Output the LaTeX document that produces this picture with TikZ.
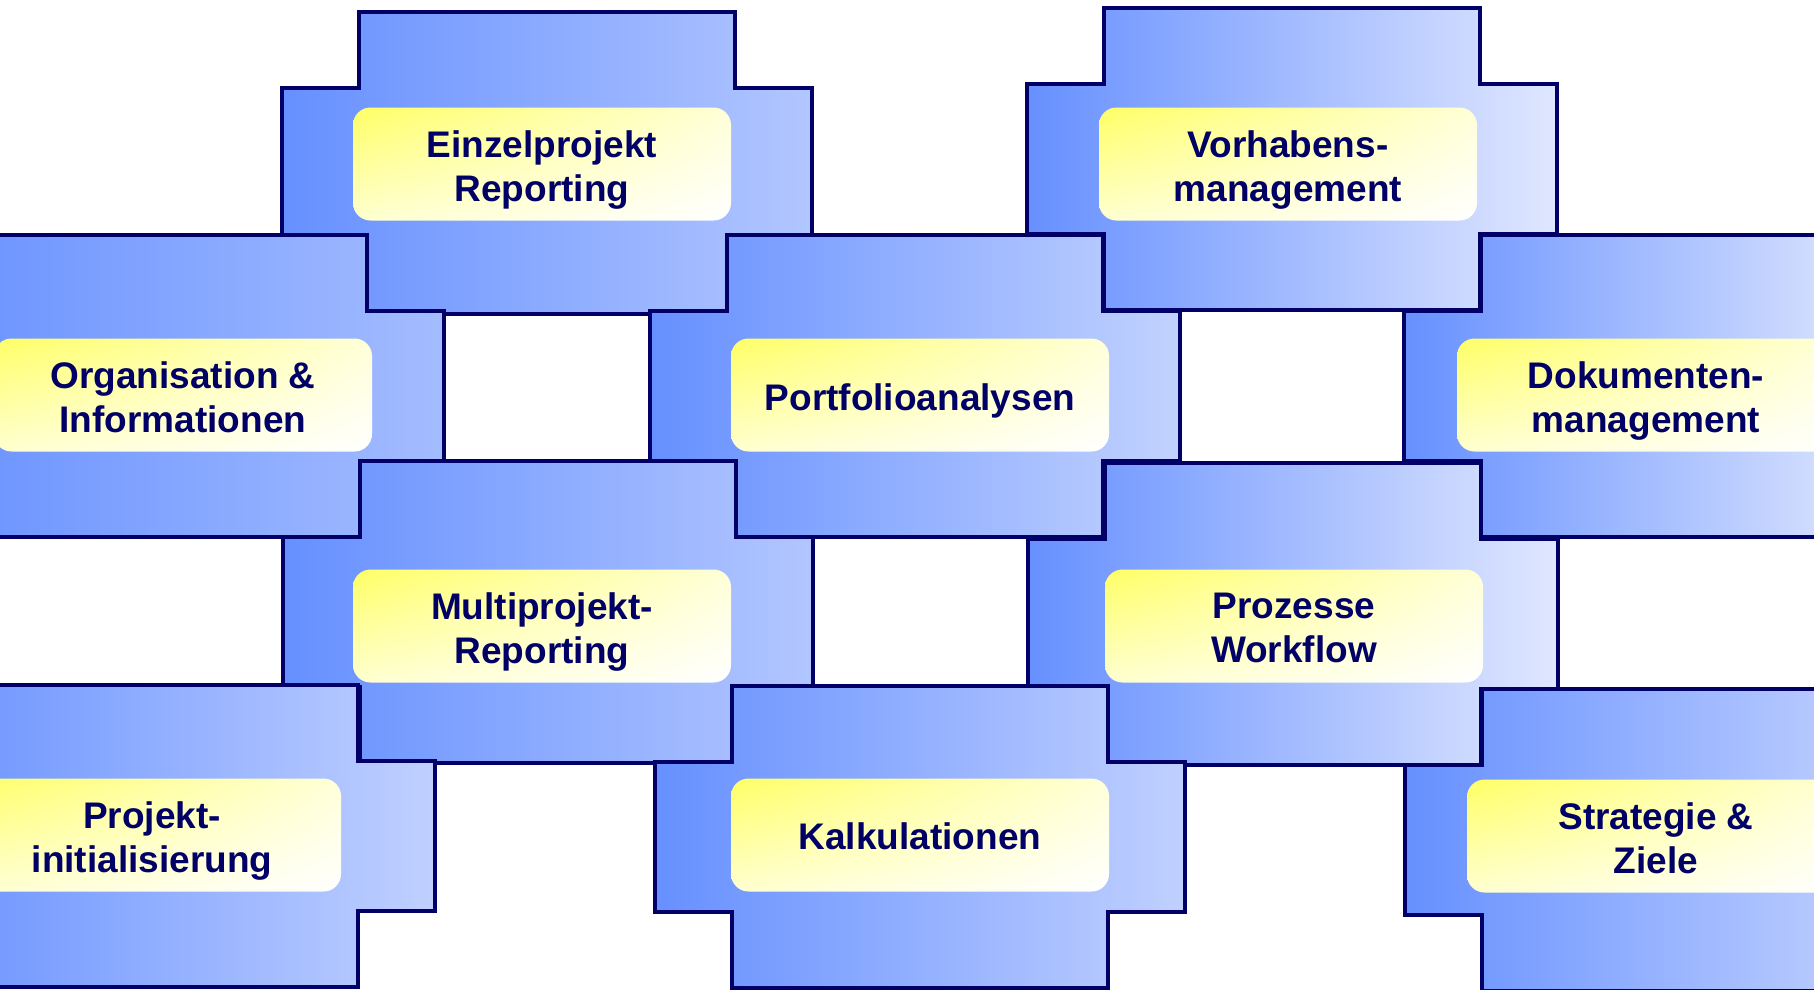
\documentclass[tikz,border=0pt]{standalone}
\usepackage{fontspec}
\setmainfont{Liberation Sans}
\usetikzlibrary{shadings}
\definecolor{navyline}{HTML}{000066}
\definecolor{navytext}{HTML}{000066}
\definecolor{blockleft}{HTML}{6690FF}
\definecolor{rEinzel}{HTML}{B2C6FF}
\definecolor{rVorh}{HTML}{E0E7FF}
\definecolor{rOrg}{HTML}{A4BCFF}
\definecolor{rPort}{HTML}{C2D2FF}
\definecolor{rDok}{HTML}{EEF2FF}
\definecolor{rMulti}{HTML}{B2C6FF}
\definecolor{rProz}{HTML}{E0E7FF}
\definecolor{rProj}{HTML}{C0D0FF}
\definecolor{rKalk}{HTML}{C0D0FF}
\definecolor{rStrat}{HTML}{CCD9FF}
\definecolor{boxyellow}{HTML}{FFFF66}
\definecolor{boxtr}{HTML}{FFFFD8}
\definecolor{boxbl}{HTML}{FFFFD0}
\newcommand\plusblock[3]{% cx, cy, right colour
  \path[blockline, right color=#3, shift={(#1,#2)}]
    (-188,-151) -- (188,-151) -- (188,-75) -- (265,-75) -- (265,75) -- (188,75)
    -- (188,151) -- (-188,151) -- (-188,75) -- (-265,75) -- (-265,-75) -- (-188,-75) -- cycle;
}
\begin{document}
\begin{tikzpicture}[x=0.4pt,y=-0.4pt,
  blockline/.style={draw=navyline, line width=1.4pt, line join=miter, left color=blockleft},
  textbox/.style={rounded corners=7pt, minimum width=151.2pt, minimum height=45.2pt,
    inner sep=0pt, upper left=boxyellow, upper right=boxtr, lower left=boxbl, lower right=white},
  boxlabel/.style={inner sep=0pt, align=center, text=navytext,
    font=\fontsize{14.8}{17.6}\selectfont\bfseries}]
\useasboundingbox (0,0) rectangle (1814,989);
\fill[white] (0,0) rectangle (1814,989);
\clip (0,0) rectangle (1814,989);
% row 1
\plusblock{547}{163}{rEinzel}
\plusblock{1292}{159}{rVorh}
% row 2
\plusblock{179}{386}{rOrg}
\plusblock{915}{386}{rPort}
\plusblock{1669}{386}{rDok}
% row 3
\plusblock{548}{612}{rMulti}
\plusblock{1293}{614}{rProz}
% row 4
\plusblock{170}{836}{rProj}
\plusblock{920}{837}{rKalk}
\plusblock{1670}{840}{rStrat}
% text boxes
\node[textbox] (einzel) at (542,164) {};
\node[textbox] (vorhaben) at (1288,164) {};
\node[textbox] (orga) at (183,395) {};
\node[textbox] (portfolio) at (920,395) {};
\node[textbox] (dokument) at (1646,395) {};
\node[textbox] (multi) at (542,626) {};
\node[textbox] (prozesse) at (1294,626) {};
\node[textbox] (projekt) at (152,835) {};
\node[textbox] (kalk) at (920,835) {};
\node[textbox] (strategie) at (1656,836) {};
% labels
\node[boxlabel] (einzel-t) at ([yshift=-2.3pt]einzel.center) {Einzelprojekt\\Reporting};
\node[boxlabel] (vorhaben-t) at ([yshift=-2.3pt]vorhaben.center) {Vorhabens-\\management};
\node[boxlabel] (orga-t) at ([yshift=-0.9pt]orga.center) {Organisation \&\\Informationen};
\node[boxlabel] (portfolio-t) at ([yshift=-2.3pt]portfolio.center) {Portfolioanalysen};
\node[boxlabel] (dokument-t) at ([yshift=-2.3pt]dokument.center) {Dokumenten-\\management};
\node[boxlabel] (multi-t) at ([yshift=-2.3pt]multi.center) {Multiprojekt-\\Reporting};
\node[boxlabel] (prozesse-t) at ([yshift=-0.9pt]prozesse.center) {Prozesse\\Workflow};
\node[boxlabel] (projekt-t) at ([yshift=-2.3pt]projekt.center) {Projekt-\\initialisierung};
\node[boxlabel] (kalk-t) at ([yshift=-0.6pt]kalk.center) {Kalkulationen};
\node[boxlabel] (strategie-t) at ([yshift=-0.9pt]strategie.center) {Strategie \&\\Ziele};
\end{tikzpicture}
\end{document}
